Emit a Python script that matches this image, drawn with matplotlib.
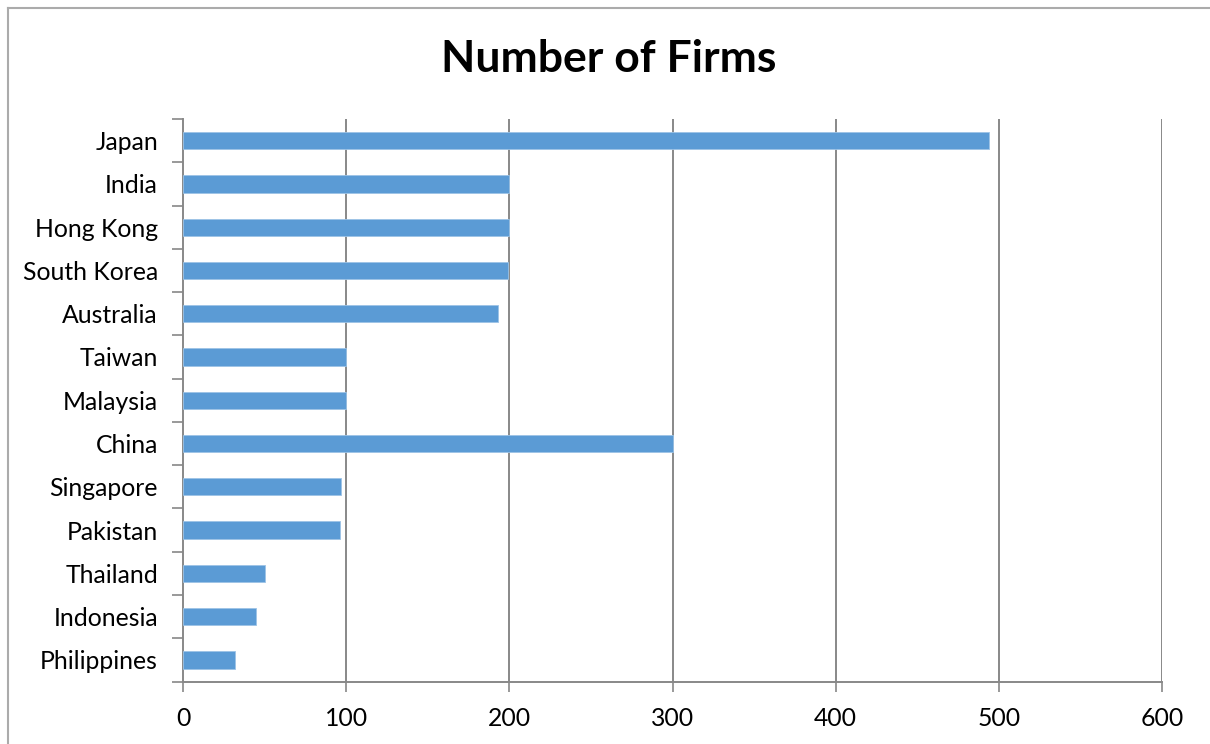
import matplotlib
matplotlib.use("Agg")
import matplotlib.pyplot as plt
from matplotlib.lines import Line2D
import numpy as np

countries = ["Japan", "India", "Hong Kong", "South Korea", "Australia", "Taiwan",
             "Malaysia", "China", "Singapore", "Pakistan", "Thailand", "Indonesia",
             "Philippines"]
firms = [494, 200, 200, 199, 193, 100, 100, 300, 97, 96, 50, 45, 32]
x_ticks = [0, 100, 200, 300, 400, 500, 600]
title = "Number of Firms"

plt.rcParams["font.family"] = ["Lato", "DejaVu Sans"]

W, H = 1210, 744
fig = plt.figure(figsize=(W / 100, H / 100), dpi=100)
ax = fig.add_axes([183 / W, 1 - 681.5 / H, (1162 - 183) / W, (681.5 - 119) / H])

n = len(countries)
ypos = np.arange(n)[::-1]
ax.barh(ypos, firms, height=0.4, color="#5B9BD5", edgecolor="#9DC3E6",
        linewidth=0.6, zorder=3)

ax.set_xlim(0, 600)
ax.set_ylim(-0.5, n - 0.5)
ax.set_xticks(x_ticks)
ax.set_xticklabels([str(v) for v in x_ticks])
ax.set_yticks(ypos)
ax.set_yticklabels(countries)
ax.set_yticks(np.arange(-0.5, n, 1.0), minor=True)

grid_c = "#888888"
for v in x_ticks[1:]:
    ax.axvline(v, color=grid_c, linewidth=1.4, zorder=1)

for s in ["top", "right"]:
    ax.spines[s].set_visible(False)
for s in ["left", "bottom"]:
    ax.spines[s].set_color(grid_c)
    ax.spines[s].set_linewidth(1.4)

ax.tick_params(axis="y", which="major", length=0, pad=18, labelsize=17.8,
               labelcolor="black")
ax.tick_params(axis="y", which="minor", length=8, width=1.2, color=grid_c,
               direction="out")
ax.tick_params(axis="x", which="major", length=7, width=1.2, color=grid_c,
               direction="out", pad=11, labelsize=17.8, labelcolor="black")

fig.text(609 / W, 1 - 59 / H, title, ha="center", va="center",
         fontsize=32, fontweight="bold")

# chart area border
fig.add_artist(Line2D([8 / W, 1.0], [1 - 8 / H, 1 - 8 / H],
                      transform=fig.transFigure, color="#ababab", linewidth=1.5))
fig.add_artist(Line2D([8 / W, 8 / W], [0, 1 - 8 / H],
                      transform=fig.transFigure, color="#ababab", linewidth=1.5))

fig.savefig("out.png", dpi=100, facecolor="white")
